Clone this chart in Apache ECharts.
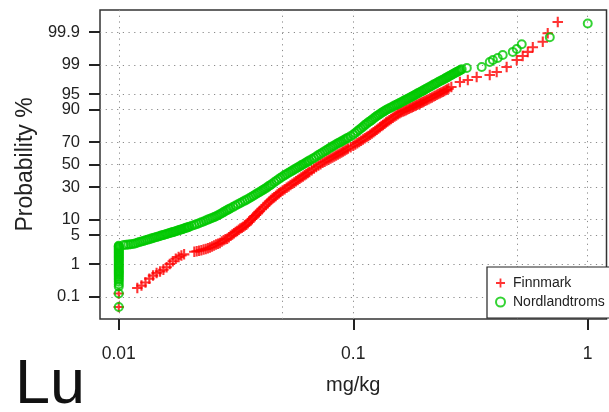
<!DOCTYPE html>
<html><head><meta charset="utf-8">
<script src="https://cdn.jsdelivr.net/npm/echarts@6/dist/echarts.min.js"></script>
<style>html,body{margin:0;padding:0;background:#fff}#c{width:609px;height:412px}</style>
</head><body><div id="c"></div>
<script>
// ---- data (mg/kg, probability %) ----
const xTickValues = [0.01, 0.1, 1];
const xGridValues = [0.01, 0.05, 0.1, 0.5, 1];
const probTicks = [0.1, 1, 5, 10, 30, 50, 70, 90, 95, 99, 99.9];

const finnmarkConc = [0.01,0.01,
 0.012,0.0125,0.013,0.0135,0.014,0.0145,0.015,0.0155,0.016,0.0165,0.017,0.0175,0.018,0.0185,0.019,
 0.021,0.0215,0.022,0.0225,0.023,0.0235,0.024,0.0245,0.025,0.0255,0.026,0.0265,0.027,0.0275,0.028,0.0285,0.029,0.0295,0.03,0.031,
 0.032,0.033,0.034,0.035,0.036,0.037,0.038,0.039,0.04,0.0415,0.043,0.0445,0.046,0.0475,0.049,0.051,0.053,0.055,0.057,0.059,
 0.061,0.063,0.065,0.068,0.071,0.074,0.077,0.08,0.083,0.086,0.089,0.092,0.095,0.1,0.104,0.108,0.112,0.116,0.12,0.124,
 0.128,0.132,0.136,0.14,0.145,0.15,0.155,0.16,0.165,0.17,0.175,0.18,0.185,0.19,0.195,0.2,0.206,0.213,0.22,0.227,
 0.234,0.241,0.248,0.255,0.262,
 0.0305,0.0315,0.0325,0.0335,0.0345,0.0355,0.0365,0.0375,0.0385,0.0395,0.04075,0.04225,0.04375,0.04525,0.04675,0.04825,
 0.05,0.052,0.054,0.056,0.058,0.06,0.062,0.064,0.0665,0.0695,0.0725,0.0755,0.0785,0.0815,0.0845,0.0875,0.0905,0.0935,0.0975,
 0.102,0.106,0.11,0.114,0.118,0.122,0.126,0.13,0.134,0.138,0.1425,0.1475,0.1525,0.1575,0.1625,0.1675,0.1725,0.1775,0.1825,
 0.1875,0.1925,0.1975,0.203,0.2095,0.2165,0.2235,0.2305,0.2375,0.2445,0.2515,
 0.285,0.308,0.336,0.382,0.409,0.451,0.498,0.528,0.555,0.583,0.643,0.675,0.745];
const finnmarkProb = [0.044,0.13,
 0.198,0.236,0.294,0.387,0.476,0.564,0.63,0.705,0.826,1.01,1.2,1.39,1.54,1.68,1.8,
 2.08,2.15,2.2,2.28,2.36,2.43,2.52,2.64,2.77,2.94,3.1,3.23,3.36,3.6,3.84,4.08,4.16,4.49,4.81,5.45,
 6.06,6.73,7.33,8.03,9.13,10.21,11.43,12.63,13.99,16.01,18.14,20.3,22.21,24.13,26.14,28.23,30.47,32.64,34.83,36.92,
 39.05,41.05,43.13,46.18,48.96,51.6,53.63,55.65,57.5,59.3,61.1,62.8,64.5,66.96,69.1,71.05,72.94,74.76,76.6,78.35,
 80.0,81.54,82.94,84.28,85.58,86.82,87.94,88.84,89.45,90.04,90.59,91.13,91.6,92.07,92.5,92.92,93.39,93.88,94.35,94.79,
 95.17,95.53,95.87,96.17,96.48,
 5.1,5.75,6.4,7.0,7.7,8.55,9.65,10.8,12.0,13.3,15.0,17.05,19.2,21.3,23.2,25.1,
 27.2,29.3,31.6,33.7,35.9,38.0,40.0,42.1,44.7,47.6,50.3,52.6,54.7,56.6,58.4,60.2,61.9,63.7,65.7,
 68.0,70.1,72.0,73.9,75.7,77.5,79.2,80.8,82.2,83.6,84.9,86.2,87.4,88.4,89.15,89.75,90.3,90.85,91.35,
 91.85,92.3,92.7,93.15,93.6,94.1,94.55,95.0,95.35,95.7,96.0,
 97.29,97.57,97.94,98.16,98.46,98.85,99.26,99.43,99.57,99.69,99.79,99.89,99.956];

const nordConc = [0.01,0.01,0.01,0.01,0.01,0.01,0.01,0.01,0.01,0.01,0.01,0.01,0.01,0.01,0.01,0.01,0.01,0.01,
 0.01,0.01,0.01,0.01,0.01,0.01,0.01,0.01,0.01,0.01,0.01,0.01,0.01,0.01,0.01,
 0.0105,0.011,0.0115,0.012,0.0125,0.013,0.0135,0.014,0.0145,0.015,0.0155,0.016,0.0165,0.017,0.0175,0.018,0.0185,0.019,0.0195,0.02,
 0.021,0.022,0.023,0.024,0.025,0.026,0.027,0.028,0.029,0.03,0.0315,0.033,0.0345,0.036,0.0375,0.039,0.0405,0.042,0.0435,0.045,
 0.047,0.049,0.051,0.053,0.055,0.057,0.059,0.061,0.063,0.065,0.068,0.071,0.074,0.077,0.08,0.083,0.086,0.089,0.092,0.095,
 0.1,0.104,0.108,0.112,0.116,0.12,0.124,0.128,0.132,0.136,0.14,0.145,0.15,0.155,0.16,0.165,0.17,0.175,0.18,0.185,
 0.19,0.195,0.2,0.206,0.213,0.22,0.227,0.234,0.241,0.248,0.255,0.262,0.269,0.276,0.283,0.29,
 0.01075,0.01125,0.01175,0.01225,0.01275,0.01325,0.01375,0.01425,0.01475,0.01525,0.01575,0.01625,0.01675,0.01725,0.01775,
 0.01825,0.01875,0.01925,0.01975,0.0205,0.0215,0.0225,0.0235,0.0245,0.0255,0.0265,0.0275,0.0285,0.0295,0.03075,0.03225,
 0.03375,0.03525,0.03675,0.03825,0.03975,0.04125,0.04275,0.04425,0.046,0.048,0.05,0.052,0.054,0.056,0.058,0.06,0.062,0.064,
 0.0665,0.0695,0.0725,0.0755,0.0785,0.0815,0.0845,0.0875,0.0905,0.0935,0.0975,0.102,0.106,0.11,0.114,0.118,0.122,0.126,
 0.13,0.134,0.138,0.1425,0.1475,0.1525,0.1575,0.1625,0.1675,0.1725,0.1775,0.1825,0.1875,0.1925,0.1975,0.203,0.2095,
 0.2165,0.2235,0.2305,0.2375,0.2445,0.2515,0.2585,0.2655,0.2725,0.2795,0.2865,
 0.305,0.353,0.382,0.394,0.413,0.434,0.479,0.498,0.523,0.689,1.0];
const nordProb = [0.044,0.13,0.22,0.31,0.4,0.5,0.6,0.7,0.85,1.0,1.2,1.4,1.6,1.85,2.1,2.4,2.7,2.9,
 0.26,0.36,0.45,0.55,0.65,0.78,0.92,1.1,1.3,1.5,1.72,1.98,2.25,2.55,2.8,
 3.01,3.08,3.18,3.4,3.62,3.84,4.08,4.32,4.53,4.78,5.02,5.26,5.49,5.73,5.98,6.23,6.49,6.76,7.04,7.33,
 7.93,8.5,9.21,9.92,10.64,11.33,12.3,13.33,14.37,15.39,16.94,18.46,19.98,21.51,23.27,25.08,26.82,28.53,30.54,32.53,
 35.19,37.83,40.24,42.31,44.35,46.37,48.24,50.09,51.86,53.63,56.12,58.68,61.03,63.16,65.33,67.21,68.97,70.51,72.01,73.4,
 75.74,78.08,80.15,82.1,83.77,85.1,86.52,87.6,88.63,89.45,90.11,90.82,91.54,92.13,92.67,93.2,93.69,94.11,94.53,94.91,
 95.24,95.58,95.87,96.21,96.56,96.89,97.15,97.39,97.61,97.81,97.99,98.16,98.32,98.45,98.56,98.68,
 3.04,3.14,3.28,3.52,3.72,3.97,4.19,4.44,4.64,4.91,5.13,5.39,5.6,5.86,6.09,
 6.37,6.61,6.91,7.18,7.62,8.22,8.86,9.55,10.3,10.98,11.8,12.8,13.85,14.9,16.15,17.7,
 19.2,20.75,22.4,24.2,25.9,27.7,29.5,31.5,33.9,36.5,39.0,41.3,43.3,45.4,47.3,49.2,51.0,52.7,
 54.9,57.4,59.9,62.1,64.3,66.3,68.1,69.7,71.3,72.7,74.6,76.9,79.1,81.1,82.9,84.4,85.8,87.1,
 88.1,89.0,89.8,90.5,91.2,91.8,92.4,92.9,93.45,93.9,94.3,94.7,95.1,95.4,95.7,96.05,96.4,
 96.7,97.0,97.3,97.5,97.7,97.9,98.08,98.24,98.38,98.5,98.62,
 98.78,98.85,99.16,99.26,99.35,99.47,99.57,99.65,99.75,99.85,99.95];

// ---- normal quantile (probability scale) ----
function qnorm(p){
  const a=[-3.969683028665376e+01,2.209460984245205e+02,-2.759285104469687e+02,1.383577518672690e+02,-3.066479806614716e+01,2.506628277459239e+00];
  const b=[-5.447609879822406e+01,1.615858368580409e+02,-1.556989798598866e+02,6.680131188771972e+01,-1.328068155288572e+01];
  const c=[-7.784894002430293e-03,-3.223964580411365e-01,-2.400758277161838e+00,-2.549732539343734e+00,4.374664141464968e+00,2.938163982698783e+00];
  const d=[7.784695709041462e-03,3.224671290700398e-01,2.445134137142996e+00,3.754408661907416e+00];
  const pl=0.02425, ph=1-pl; let q,r;
  if(p<pl){q=Math.sqrt(-2*Math.log(p));return (((((c[0]*q+c[1])*q+c[2])*q+c[3])*q+c[4])*q+c[5])/((((d[0]*q+d[1])*q+d[2])*q+d[3])*q+1);}
  if(p<=ph){q=p-0.5;r=q*q;return (((((a[0]*r+a[1])*r+a[2])*r+a[3])*r+a[4])*r+a[5])*q/(((((b[0]*r+b[1])*r+b[2])*r+b[3])*r+b[4])*r+1);}
  q=Math.sqrt(-2*Math.log(1-p));return -(((((c[0]*q+c[1])*q+c[2])*q+c[3])*q+c[4])*q+c[5])/((((d[0]*q+d[1])*q+d[2])*q+d[3])*q+1);
}
const toPoint = (conc, prob) => conc.map((v,i)=>[Math.log10(v), qnorm(prob[i]/100)]);

const X_MIN = -2.08, X_MAX = 0.08;     // log10 range (R 4% padding)
const Y_LIM = 3.605;                   // normal-score range

const nearest = (arr, f, v) => { let best=arr[0], bd=Infinity; arr.forEach(a=>{const d=Math.abs(f(a)-v); if(d<bd){bd=d;best=a;}}); return best; };

const RED = '#ff0000', GREEN = '#00c800';
const PLUS = 'path://M4,0H6V4H10V6H6V10H4V6H0V4H4Z';
const FONT = 'Liberation Sans';
const dotted = {color:'#8a8a8a', width:1, type:[1.2,4.5]};

const chart = echarts.init(document.getElementById('c'), null, {renderer:'canvas'});
chart.setOption({
  animation:false,
  backgroundColor:'#fff',
  textStyle:{fontFamily:FONT},
  grid:{left:100, top:10, width:506.5, height:309, show:true, borderColor:'#333', borderWidth:1.5, backgroundColor:'transparent', containLabel:false, outerBoundsMode:'none'},
  title:{text:'Lu', left:15, top:354, padding:0, textStyle:{fontFamily:FONT, fontSize:63, fontWeight:'normal', color:'#111'}},
  legend:{
    orient:'vertical', left:487, top:267, padding:[9,6,9,8], itemGap:5, itemWidth:9, itemHeight:9,
    backgroundColor:'#fff', borderColor:'#222', borderWidth:1.2, borderRadius:0, z:10,
    textStyle:{fontFamily:FONT, fontSize:14, color:'#222', padding:[0,0,0,3]},
    data:[{name:'Finnmark', icon:PLUS}, {name:'Nordlandtroms', icon:'circle'}]
  },
  xAxis:[{
    type:'value', min:X_MIN, max:X_MAX, position:'bottom',
    name:'mg/kg', nameLocation:'middle', nameGap:56, nameTextStyle:{fontFamily:FONT, fontSize:20, color:'#222'},
    axisLine:{show:false, onZero:false},
    axisTick:{show:true, length:11, lineStyle:{color:'#222', width:2}, customValues:xTickValues.map(Math.log10)},
    axisLabel:{show:true, margin:26, fontFamily:FONT, fontSize:17.5, color:'#222', customValues:xTickValues.map(Math.log10),
      formatter:v=>String(nearest(xTickValues, Math.log10, v))},
    splitLine:{show:false}
  },{
    type:'value', min:X_MIN, max:X_MAX, position:'bottom', show:true,
    axisLine:{show:false, onZero:false}, axisTick:{show:false, customValues:xGridValues.map(Math.log10)},
    axisLabel:{show:false}, splitLine:{show:true, lineStyle:dotted}
  }],
  yAxis:{
    type:'value', min:-Y_LIM, max:Y_LIM,
    name:'Probability %', nameLocation:'middle', nameGap:61, nameRotate:90, nameTextStyle:{fontFamily:FONT, fontSize:23, color:'#222'},
    axisLine:{show:false, onZero:false},
    axisTick:{show:true, length:11, lineStyle:{color:'#222', width:2}, customValues:probTicks.map(p=>qnorm(p/100))},
    axisLabel:{show:true, margin:20, fontFamily:FONT, fontSize:16.5, color:'#222', customValues:probTicks.map(p=>qnorm(p/100)),
      formatter:v=>String(nearest(probTicks, p=>qnorm(p/100), v))},
    splitLine:{show:true, lineStyle:dotted}
  },
  series:[{
    name:'Finnmark', type:'scatter', xAxisIndex:0, data:toPoint(finnmarkConc, finnmarkProb),
    symbol:PLUS, symbolSize:10.5, itemStyle:{color:RED}, z:3
  },{
    name:'Nordlandtroms', type:'scatter', xAxisIndex:0, data:toPoint(nordConc, nordProb),
    symbol:'circle', symbolSize:8, itemStyle:{color:'rgba(0,0,0,0)', borderColor:GREEN, borderWidth:2}, z:4
  }]
});
</script></body></html>
